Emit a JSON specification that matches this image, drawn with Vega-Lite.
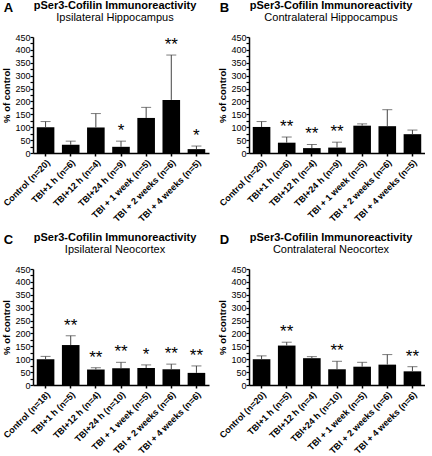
{
  "$schema": "https://vega.github.io/schema/vega-lite/v6.json",
  "padding": {"left": 1, "top": 0, "right": 0, "bottom": 0},
  "background": "white",
  "config": {
    "font": "Liberation Sans",
    "view": {"stroke": null},
    "title": {"font": "Liberation Sans", "color": "black", "subtitleColor": "black", "subtitleFont": "Liberation Sans"},
    "axis": {"labelFont": "Liberation Sans", "titleFont": "Liberation Sans", "labelColor": "black", "titleColor": "black", "domainColor": "black", "tickColor": "black", "grid": false},
    "axisY": {"titleFontSize": 9.5, "titleFontWeight": "bold", "titlePadding": 3, "labelFontSize": 9, "labelPadding": 0, "domainWidth": 1.5, "tickWidth": 1.2, "tickSize": 3},
    "axisX": {"labelAngle": -45, "labelFontSize": 9, "labelFontWeight": "bold", "tickSize": 3, "tickWidth": 1.5, "domainWidth": 1.5, "labelPadding": 2}
  },
  "datasets": {
    "A": [
      {"group": "Control (n=20)", "mean": 100, "upper": 122, "sig": ""},
      {"group": "TBI+1 h  (n=6)", "mean": 32, "upper": 46, "sig": ""},
      {"group": "TBI+12 h  (n=4)", "mean": 99, "upper": 153, "sig": ""},
      {"group": "TBI+24 h  (n=9)", "mean": 24, "upper": 46, "sig": "*"},
      {"group": "TBI + 1 week (n=5)", "mean": 136, "upper": 177, "sig": ""},
      {"group": "TBI + 2 weeks (n=6)", "mean": 206, "upper": 380, "sig": "**"},
      {"group": "TBI + 4 weeks (n=5)", "mean": 15, "upper": 27, "sig": "*"}
    ],
    "B": [
      {"group": "Control (n=20)", "mean": 101, "upper": 122, "sig": ""},
      {"group": "TBI+1 h  (n=6)", "mean": 40, "upper": 62, "sig": "**"},
      {"group": "TBI+12 h  (n=4)", "mean": 19, "upper": 33, "sig": "**"},
      {"group": "TBI+24 h  (n=9)", "mean": 21, "upper": 42, "sig": "**"},
      {"group": "TBI + 1 week (n=5)", "mean": 106, "upper": 113, "sig": ""},
      {"group": "TBI + 2 weeks (n=6)", "mean": 104, "upper": 168, "sig": ""},
      {"group": "TBI + 4 weeks (n=5)", "mean": 73, "upper": 89, "sig": ""}
    ],
    "C": [
      {"group": "Control (n=18)", "mean": 100, "upper": 111, "sig": ""},
      {"group": "TBI+1 h  (n=5)", "mean": 155, "upper": 191, "sig": "**"},
      {"group": "TBI+12 h  (n=4)", "mean": 60, "upper": 67, "sig": "**"},
      {"group": "TBI+24 h  (n=10)", "mean": 65, "upper": 88, "sig": "**"},
      {"group": "TBI + 1 week (n=5)", "mean": 66, "upper": 78, "sig": "*"},
      {"group": "TBI + 2 weeks (n=6)", "mean": 61, "upper": 81, "sig": "**"},
      {"group": "TBI + 4 weeks (n=6)", "mean": 47, "upper": 74, "sig": "**"}
    ],
    "D": [
      {"group": "Control (n=20)", "mean": 100, "upper": 113, "sig": ""},
      {"group": "TBI+1 h  (n=5)", "mean": 153, "upper": 166, "sig": "**"},
      {"group": "TBI+12 h  (n=4)", "mean": 104, "upper": 110, "sig": ""},
      {"group": "TBI+24 h  (n=10)", "mean": 61, "upper": 92, "sig": "**"},
      {"group": "TBI + 1 week (n=5)", "mean": 71, "upper": 88, "sig": ""},
      {"group": "TBI + 2 weeks (n=6)", "mean": 79, "upper": 118, "sig": ""},
      {"group": "TBI + 4 weeks (n=6)", "mean": 53, "upper": 71, "sig": "**"}
    ]
  },
  "columns": 2,
  "spacing": {"row": 8, "column": 8},
  "concat": [
    {
      "title": {"text": "A", "anchor": "start", "frame": "bounds", "fontSize": 13, "fontWeight": "bold", "offset": -15, "dx": 2},
      "vconcat": [
        {
          "width": 176, "height": 116,
          "data": {"name": "A"},
          "title": {"text": "pSer3-Cofilin Immunoreactivity", "subtitle": "Ipsilateral Hippocampus", "frame": "group", "dx": -6, "fontSize": 11, "fontWeight": "bold", "subtitleFontSize": 11, "subtitlePadding": 1, "offset": 10},
          "encoding": {"x": {"field": "group", "type": "nominal", "sort": null, "title": null, "scale": {"paddingInner": 0.3, "paddingOuter": 0.15}, "axis": {"labelOverlap": false}}},
          "layer": [
            {"mark": {"type": "bar", "color": "black"}, "encoding": {"y": {"field": "mean", "type": "quantitative", "scale": {"domain": [0, 450]},
              "axis": {"title": "% of control", "labelOverlap": false, "values": [0,25,50,75,100,125,150,175,200,225,250,275,300,325,350,375,400,425,450], "labelExpr": "datum.value % 50 === 0 ? datum.label : ''"}}}},
            {"mark": {"type": "rule", "color": "#444444", "strokeWidth": 1}, "encoding": {"y": {"field": "mean", "type": "quantitative", "axis": {"title": "% of control", "labelOverlap": false, "values": [0,25,50,75,100,125,150,175,200,225,250,275,300,325,350,375,400,425,450], "labelExpr": "datum.value % 50 === 0 ? datum.label : ''"}}, "y2": {"field": "upper"}}},
            {"mark": {"type": "tick", "color": "#444444", "size": 10, "thickness": 1}, "encoding": {"y": {"field": "upper", "type": "quantitative", "axis": {"title": "% of control", "labelOverlap": false, "values": [0,25,50,75,100,125,150,175,200,225,250,275,300,325,350,375,400,425,450], "labelExpr": "datum.value % 50 === 0 ? datum.label : ''"}}}},
            {"mark": {"type": "text", "fontSize": 17, "dy": -5, "baseline": "alphabetic"}, "encoding": {"y": {"field": "upper", "type": "quantitative", "axis": {"title": "% of control", "labelOverlap": false, "values": [0,25,50,75,100,125,150,175,200,225,250,275,300,325,350,375,400,425,450], "labelExpr": "datum.value % 50 === 0 ? datum.label : ''"}}, "text": {"field": "sig"}}}
          ]
        }
      ]
    },
    {
      "title": {"text": "B", "anchor": "start", "frame": "bounds", "fontSize": 13, "fontWeight": "bold", "offset": -15, "dx": 2},
      "vconcat": [
        {
          "width": 176, "height": 116,
          "data": {"name": "B"},
          "title": {"text": "pSer3-Cofilin Immunoreactivity", "subtitle": "Contralateral Hippocampus", "frame": "group", "dx": -6, "fontSize": 11, "fontWeight": "bold", "subtitleFontSize": 11, "subtitlePadding": 1, "offset": 10},
          "encoding": {"x": {"field": "group", "type": "nominal", "sort": null, "title": null, "scale": {"paddingInner": 0.3, "paddingOuter": 0.15}, "axis": {"labelOverlap": false}}},
          "layer": [
            {"mark": {"type": "bar", "color": "black"}, "encoding": {"y": {"field": "mean", "type": "quantitative", "scale": {"domain": [0, 450]},
              "axis": {"title": "% of control", "labelOverlap": false, "values": [0,25,50,75,100,125,150,175,200,225,250,275,300,325,350,375,400,425,450], "labelExpr": "datum.value % 50 === 0 ? datum.label : ''"}}}},
            {"mark": {"type": "rule", "color": "#444444", "strokeWidth": 1}, "encoding": {"y": {"field": "mean", "type": "quantitative", "axis": {"title": "% of control", "labelOverlap": false, "values": [0,25,50,75,100,125,150,175,200,225,250,275,300,325,350,375,400,425,450], "labelExpr": "datum.value % 50 === 0 ? datum.label : ''"}}, "y2": {"field": "upper"}}},
            {"mark": {"type": "tick", "color": "#444444", "size": 10, "thickness": 1}, "encoding": {"y": {"field": "upper", "type": "quantitative", "axis": {"title": "% of control", "labelOverlap": false, "values": [0,25,50,75,100,125,150,175,200,225,250,275,300,325,350,375,400,425,450], "labelExpr": "datum.value % 50 === 0 ? datum.label : ''"}}}},
            {"mark": {"type": "text", "fontSize": 17, "dy": -5, "baseline": "alphabetic"}, "encoding": {"y": {"field": "upper", "type": "quantitative", "axis": {"title": "% of control", "labelOverlap": false, "values": [0,25,50,75,100,125,150,175,200,225,250,275,300,325,350,375,400,425,450], "labelExpr": "datum.value % 50 === 0 ? datum.label : ''"}}, "text": {"field": "sig"}}}
          ]
        }
      ]
    },
    {
      "title": {"text": "C", "anchor": "start", "frame": "bounds", "fontSize": 13, "fontWeight": "bold", "offset": -15, "dx": 2},
      "vconcat": [
        {
          "width": 176, "height": 116,
          "data": {"name": "C"},
          "title": {"text": "pSer3-Cofilin Immunoreactivity", "subtitle": "Ipsilateral Neocortex", "frame": "group", "dx": -6, "fontSize": 11, "fontWeight": "bold", "subtitleFontSize": 11, "subtitlePadding": 1, "offset": 10},
          "encoding": {"x": {"field": "group", "type": "nominal", "sort": null, "title": null, "scale": {"paddingInner": 0.3, "paddingOuter": 0.15}, "axis": {"labelOverlap": false}}},
          "layer": [
            {"mark": {"type": "bar", "color": "black"}, "encoding": {"y": {"field": "mean", "type": "quantitative", "scale": {"domain": [0, 450]},
              "axis": {"title": "% of control", "labelOverlap": false, "values": [0,25,50,75,100,125,150,175,200,225,250,275,300,325,350,375,400,425,450], "labelExpr": "datum.value % 50 === 0 ? datum.label : ''"}}}},
            {"mark": {"type": "rule", "color": "#444444", "strokeWidth": 1}, "encoding": {"y": {"field": "mean", "type": "quantitative", "axis": {"title": "% of control", "labelOverlap": false, "values": [0,25,50,75,100,125,150,175,200,225,250,275,300,325,350,375,400,425,450], "labelExpr": "datum.value % 50 === 0 ? datum.label : ''"}}, "y2": {"field": "upper"}}},
            {"mark": {"type": "tick", "color": "#444444", "size": 10, "thickness": 1}, "encoding": {"y": {"field": "upper", "type": "quantitative", "axis": {"title": "% of control", "labelOverlap": false, "values": [0,25,50,75,100,125,150,175,200,225,250,275,300,325,350,375,400,425,450], "labelExpr": "datum.value % 50 === 0 ? datum.label : ''"}}}},
            {"mark": {"type": "text", "fontSize": 17, "dy": -5, "baseline": "alphabetic"}, "encoding": {"y": {"field": "upper", "type": "quantitative", "axis": {"title": "% of control", "labelOverlap": false, "values": [0,25,50,75,100,125,150,175,200,225,250,275,300,325,350,375,400,425,450], "labelExpr": "datum.value % 50 === 0 ? datum.label : ''"}}, "text": {"field": "sig"}}}
          ]
        }
      ]
    },
    {
      "title": {"text": "D", "anchor": "start", "frame": "bounds", "fontSize": 13, "fontWeight": "bold", "offset": -15, "dx": 2},
      "vconcat": [
        {
          "width": 176, "height": 116,
          "data": {"name": "D"},
          "title": {"text": "pSer3-Cofilin Immunoreactivity", "subtitle": "Contralateral Neocortex", "frame": "group", "dx": -6, "fontSize": 11, "fontWeight": "bold", "subtitleFontSize": 11, "subtitlePadding": 1, "offset": 10},
          "encoding": {"x": {"field": "group", "type": "nominal", "sort": null, "title": null, "scale": {"paddingInner": 0.3, "paddingOuter": 0.15}, "axis": {"labelOverlap": false}}},
          "layer": [
            {"mark": {"type": "bar", "color": "black"}, "encoding": {"y": {"field": "mean", "type": "quantitative", "scale": {"domain": [0, 450]},
              "axis": {"title": "% of control", "labelOverlap": false, "values": [0,25,50,75,100,125,150,175,200,225,250,275,300,325,350,375,400,425,450], "labelExpr": "datum.value % 50 === 0 ? datum.label : ''"}}}},
            {"mark": {"type": "rule", "color": "#444444", "strokeWidth": 1}, "encoding": {"y": {"field": "mean", "type": "quantitative", "axis": {"title": "% of control", "labelOverlap": false, "values": [0,25,50,75,100,125,150,175,200,225,250,275,300,325,350,375,400,425,450], "labelExpr": "datum.value % 50 === 0 ? datum.label : ''"}}, "y2": {"field": "upper"}}},
            {"mark": {"type": "tick", "color": "#444444", "size": 10, "thickness": 1}, "encoding": {"y": {"field": "upper", "type": "quantitative", "axis": {"title": "% of control", "labelOverlap": false, "values": [0,25,50,75,100,125,150,175,200,225,250,275,300,325,350,375,400,425,450], "labelExpr": "datum.value % 50 === 0 ? datum.label : ''"}}}},
            {"mark": {"type": "text", "fontSize": 17, "dy": -5, "baseline": "alphabetic"}, "encoding": {"y": {"field": "upper", "type": "quantitative", "axis": {"title": "% of control", "labelOverlap": false, "values": [0,25,50,75,100,125,150,175,200,225,250,275,300,325,350,375,400,425,450], "labelExpr": "datum.value % 50 === 0 ? datum.label : ''"}}, "text": {"field": "sig"}}}
          ]
        }
      ]
    }
  ]
}
